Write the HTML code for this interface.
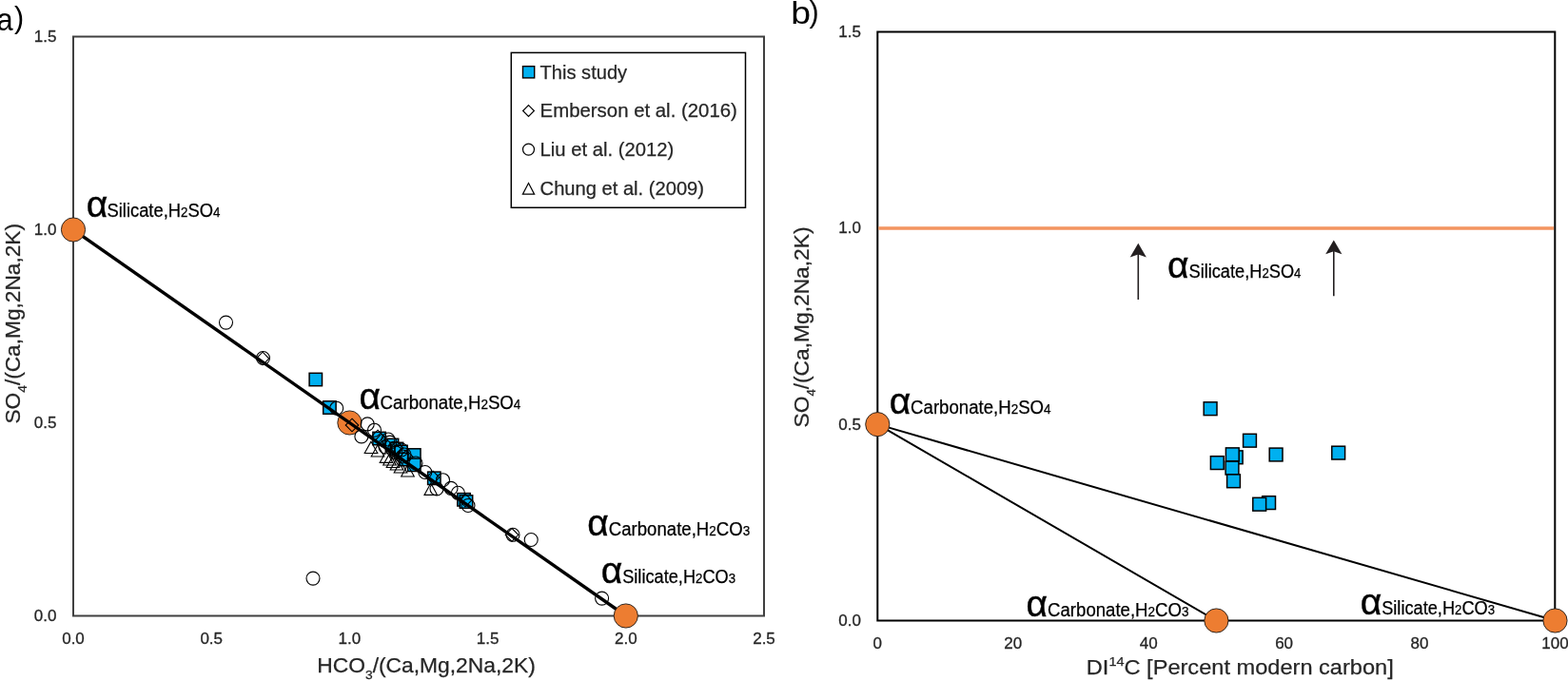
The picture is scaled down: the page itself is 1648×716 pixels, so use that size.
<!DOCTYPE html>
<html><head><meta charset="utf-8"><title>Figure</title>
<style>html,body{margin:0;padding:0;background:#fff;overflow:hidden;} svg{display:block;} text{font-family:"Liberation Sans", Arial, sans-serif;}</style>
</head><body>
<svg width="1648" height="716" viewBox="0 0 1648 716">
<rect width="1648" height="716" fill="#fff"/>
<text x="-3.6" y="31.6" font-size="33.5" fill="#000" textLength="17.2" lengthAdjust="spacingAndGlyphs">a</text>
<text x="14.9" y="29.3" font-size="30.5" fill="#000">)</text>
<text x="831.3" y="25" font-size="34" fill="#000" textLength="20.8" lengthAdjust="spacingAndGlyphs">b</text>
<text x="850.4" y="22.8" font-size="30.5" fill="#000">)</text>
<rect x="77" y="38.5" width="726" height="609" fill="none" stroke="#404040" stroke-width="2"/>
<text x="59.5" y="653.3" font-size="17" fill="#262626" stroke="#262626" stroke-width="0.3" text-anchor="end">0.0</text>
<text x="59.5" y="450.3" font-size="17" fill="#262626" stroke="#262626" stroke-width="0.3" text-anchor="end">0.5</text>
<text x="59.5" y="247.3" font-size="17" fill="#262626" stroke="#262626" stroke-width="0.3" text-anchor="end">1.0</text>
<text x="59.5" y="44.3" font-size="17" fill="#262626" stroke="#262626" stroke-width="0.3" text-anchor="end">1.5</text>
<text x="77" y="677" font-size="17" fill="#262626" stroke="#262626" stroke-width="0.3" text-anchor="middle">0.0</text>
<text x="222.2" y="677" font-size="17" fill="#262626" stroke="#262626" stroke-width="0.3" text-anchor="middle">0.5</text>
<text x="367.4" y="677" font-size="17" fill="#262626" stroke="#262626" stroke-width="0.3" text-anchor="middle">1.0</text>
<text x="512.6" y="677" font-size="17" fill="#262626" stroke="#262626" stroke-width="0.3" text-anchor="middle">1.5</text>
<text x="657.8" y="677" font-size="17" fill="#262626" stroke="#262626" stroke-width="0.3" text-anchor="middle">2.0</text>
<text x="803" y="677" font-size="17" fill="#262626" stroke="#262626" stroke-width="0.3" text-anchor="middle">2.5</text>
<text transform="translate(20.5,445.5) rotate(-90)" font-size="21.5" fill="#262626" stroke="#262626" stroke-width="0.25" textLength="210.5" lengthAdjust="spacingAndGlyphs">SO<tspan font-size="13" dy="7">4</tspan><tspan dy="-7">/(Ca,Mg,2Na,2K)</tspan></text>
<text x="333.3" y="706.8" font-size="21.5" fill="#262626" stroke="#262626" stroke-width="0.25" textLength="229.5" lengthAdjust="spacingAndGlyphs">HCO<tspan font-size="13" dy="7">3</tspan><tspan dy="-7">/(Ca,Mg,2Na,2K)</tspan></text>
<rect x="537.3" y="55.4" width="246.2" height="162.9" fill="#fff" stroke="#000" stroke-width="1.5"/>
<rect x="549.5" y="69.7" width="12.2" height="12.2" fill="#00B0F0" stroke="#000" stroke-width="1.4"/>
<path d="M555.5 110.6 L561.4 116.5 L555.5 122.4 L549.6 116.5 Z" fill="none" stroke="#000" stroke-width="1.2"/>
<circle cx="555.5" cy="157.1" r="6" fill="none" stroke="#000" stroke-width="1.2"/>
<path d="M555.5 192.5 L561.6 204.1 L549.4 204.1 Z" fill="none" stroke="#000" stroke-width="1.2"/>
<text x="567.6" y="82.5" font-size="20.3" fill="#262626" stroke="#262626" stroke-width="0.25" textLength="91.5" lengthAdjust="spacingAndGlyphs">This study</text>
<text x="567.6" y="123" font-size="20.3" fill="#262626" stroke="#262626" stroke-width="0.25" textLength="207.3" lengthAdjust="spacingAndGlyphs">Emberson et al. (2016)</text>
<text x="567.6" y="164" font-size="20.3" fill="#262626" stroke="#262626" stroke-width="0.25" textLength="140.6" lengthAdjust="spacingAndGlyphs">Liu et al. (2012)</text>
<text x="567.6" y="204.5" font-size="20.3" fill="#262626" stroke="#262626" stroke-width="0.25" textLength="172.4" lengthAdjust="spacingAndGlyphs">Chung et al. (2009)</text>
<circle cx="367.4" cy="444.5" r="12.6" fill="#ED7D31" stroke="#1a1a1a" stroke-width="0.9"/>
<rect x="325.1" y="392.3" width="13.4" height="13.4" fill="#00B0F0" stroke="#000" stroke-width="1.5"/>
<rect x="339.7" y="421.8" width="13.4" height="13.4" fill="#00B0F0" stroke="#000" stroke-width="1.5"/>
<rect x="391.9" y="454.3" width="13.4" height="13.4" fill="#00B0F0" stroke="#000" stroke-width="1.5"/>
<rect x="405.3" y="461.3" width="13.4" height="13.4" fill="#00B0F0" stroke="#000" stroke-width="1.5"/>
<rect x="410.3" y="465.3" width="13.4" height="13.4" fill="#00B0F0" stroke="#000" stroke-width="1.5"/>
<rect x="414.8" y="468.3" width="13.4" height="13.4" fill="#00B0F0" stroke="#000" stroke-width="1.5"/>
<rect x="419.3" y="476.3" width="13.4" height="13.4" fill="#00B0F0" stroke="#000" stroke-width="1.5"/>
<rect x="428.6" y="471.8" width="13.4" height="13.4" fill="#00B0F0" stroke="#000" stroke-width="1.5"/>
<rect x="428.6" y="482.1" width="13.4" height="13.4" fill="#00B0F0" stroke="#000" stroke-width="1.5"/>
<rect x="449.6" y="496.1" width="13.4" height="13.4" fill="#00B0F0" stroke="#000" stroke-width="1.5"/>
<rect x="480.8" y="518.6" width="13.4" height="13.4" fill="#00B0F0" stroke="#000" stroke-width="1.5"/>
<rect x="483.3" y="520.8" width="13.4" height="13.4" fill="#00B0F0" stroke="#000" stroke-width="1.5"/>
<circle cx="237.5" cy="339.1" r="7" fill="none" stroke="#000" stroke-width="1.1"/>
<circle cx="276.5" cy="376.5" r="7" fill="none" stroke="#000" stroke-width="1.1"/>
<circle cx="353.7" cy="429.2" r="7" fill="none" stroke="#000" stroke-width="1.1"/>
<circle cx="386.2" cy="445.9" r="7" fill="none" stroke="#000" stroke-width="1.1"/>
<circle cx="393.5" cy="452.2" r="7" fill="none" stroke="#000" stroke-width="1.1"/>
<circle cx="379.9" cy="458.9" r="7" fill="none" stroke="#000" stroke-width="1.1"/>
<circle cx="409.9" cy="465.1" r="7" fill="none" stroke="#000" stroke-width="1.1"/>
<circle cx="405" cy="470" r="7" fill="none" stroke="#000" stroke-width="1.1"/>
<circle cx="415" cy="471" r="7" fill="none" stroke="#000" stroke-width="1.1"/>
<circle cx="425" cy="478" r="7" fill="none" stroke="#000" stroke-width="1.1"/>
<circle cx="437" cy="487" r="7" fill="none" stroke="#000" stroke-width="1.1"/>
<circle cx="446.8" cy="496.5" r="7" fill="none" stroke="#000" stroke-width="1.1"/>
<circle cx="465.5" cy="504.7" r="7" fill="none" stroke="#000" stroke-width="1.1"/>
<circle cx="474" cy="513.4" r="7" fill="none" stroke="#000" stroke-width="1.1"/>
<circle cx="481.4" cy="518.3" r="7" fill="none" stroke="#000" stroke-width="1.1"/>
<circle cx="459" cy="514" r="7" fill="none" stroke="#000" stroke-width="1.1"/>
<circle cx="492" cy="531.5" r="7" fill="none" stroke="#000" stroke-width="1.1"/>
<circle cx="408" cy="462" r="7" fill="none" stroke="#000" stroke-width="1.1"/>
<circle cx="422" cy="473" r="7" fill="none" stroke="#000" stroke-width="1.1"/>
<circle cx="416" cy="476" r="7" fill="none" stroke="#000" stroke-width="1.1"/>
<circle cx="423" cy="480" r="7" fill="none" stroke="#000" stroke-width="1.1"/>
<circle cx="539" cy="562.3" r="7" fill="none" stroke="#000" stroke-width="1.1"/>
<circle cx="558.2" cy="567.5" r="7" fill="none" stroke="#000" stroke-width="1.1"/>
<circle cx="632.6" cy="629.1" r="7" fill="none" stroke="#000" stroke-width="1.1"/>
<circle cx="329" cy="608.1" r="7" fill="none" stroke="#000" stroke-width="1.1"/>
<path d="M276 370.2 L282.8 377 L276 383.8 L269.2 377 Z" fill="none" stroke="#000" stroke-width="1.1"/>
<path d="M370 440.2 L376.8 447 L370 453.8 L363.2 447 Z" fill="none" stroke="#000" stroke-width="1.1"/>
<path d="M538 555.5 L544.8 562.3 L538 569.1 L531.2 562.3 Z" fill="none" stroke="#000" stroke-width="1.1"/>
<path d="M401 456.2 L407.8 463 L401 469.8 L394.2 463 Z" fill="none" stroke="#000" stroke-width="1.1"/>
<path d="M489 519.2 L495.8 526 L489 532.8 L482.2 526 Z" fill="none" stroke="#000" stroke-width="1.1"/>
<path d="M427 473.2 L433.8 480 L427 486.8 L420.2 480 Z" fill="none" stroke="#000" stroke-width="1.1"/>
<path d="M417 464.2 L423.8 471 L417 477.8 L410.2 471 Z" fill="none" stroke="#000" stroke-width="1.1"/>
<path d="M397 452.2 L403.8 459 L397 465.8 L390.2 459 Z" fill="none" stroke="#000" stroke-width="1.1"/>
<path d="M455 495.2 L461.8 502 L455 508.8 L448.2 502 Z" fill="none" stroke="#000" stroke-width="1.1"/>
<path d="M390 464.2 L396.8 476.5 L383.2 476.5 Z" fill="none" stroke="#000" stroke-width="1.1"/>
<path d="M397 467.7 L403.8 480 L390.2 480 Z" fill="none" stroke="#000" stroke-width="1.1"/>
<path d="M406 474.1 L412.8 486.4 L399.2 486.4 Z" fill="none" stroke="#000" stroke-width="1.1"/>
<path d="M409.5 476.7 L416.3 489 L402.7 489 Z" fill="none" stroke="#000" stroke-width="1.1"/>
<path d="M413 479.2 L419.8 491.5 L406.2 491.5 Z" fill="none" stroke="#000" stroke-width="1.1"/>
<path d="M417 481.7 L423.8 494 L410.2 494 Z" fill="none" stroke="#000" stroke-width="1.1"/>
<path d="M421 484.7 L427.8 497 L414.2 497 Z" fill="none" stroke="#000" stroke-width="1.1"/>
<path d="M428.5 488.7 L435.3 501 L421.7 501 Z" fill="none" stroke="#000" stroke-width="1.1"/>
<path d="M452.8 508.1 L459.6 520.4 L446 520.4 Z" fill="none" stroke="#000" stroke-width="1.1"/>
<line x1="77" y1="241.5" x2="657.8" y2="647.5" stroke="#000" stroke-width="3.4"/>
<circle cx="77" cy="241.5" r="12.6" fill="#ED7D31" stroke="#1a1a1a" stroke-width="0.9"/>
<circle cx="657.8" cy="647.5" r="12.6" fill="#ED7D31" stroke="#1a1a1a" stroke-width="0.9"/>
<text x="90.7" y="227.5" font-size="39" fill="#000" stroke="#000" stroke-width="0.45">&#945;</text>
<text x="112.5" y="227.5" font-size="20" fill="#000" stroke="#000" stroke-width="0.25" textLength="118.9" lengthAdjust="spacingAndGlyphs">Silicate,<tspan>H</tspan><tspan font-size="14.5">2</tspan><tspan>SO</tspan><tspan font-size="14.5">4</tspan></text>
<text x="377.5" y="429.6" font-size="39" fill="#000" stroke="#000" stroke-width="0.45">&#945;</text>
<text x="399.6" y="429.6" font-size="20" fill="#000" stroke="#000" stroke-width="0.25" textLength="147.8" lengthAdjust="spacingAndGlyphs">Carbonate,<tspan>H</tspan><tspan font-size="14.5">2</tspan><tspan>SO</tspan><tspan font-size="14.5">4</tspan></text>
<text x="617.3" y="563.4" font-size="39" fill="#000" stroke="#000" stroke-width="0.45">&#945;</text>
<text x="639.8" y="563.4" font-size="20" fill="#000" stroke="#000" stroke-width="0.25" textLength="148.4" lengthAdjust="spacingAndGlyphs">Carbonate,<tspan>H</tspan><tspan font-size="14.5">2</tspan><tspan>CO</tspan><tspan font-size="14.5">3</tspan></text>
<text x="631.7" y="613" font-size="39" fill="#000" stroke="#000" stroke-width="0.45">&#945;</text>
<text x="654.2" y="613" font-size="20" fill="#000" stroke="#000" stroke-width="0.25" textLength="118.9" lengthAdjust="spacingAndGlyphs">Silicate,<tspan>H</tspan><tspan font-size="14.5">2</tspan><tspan>CO</tspan><tspan font-size="14.5">3</tspan></text>
<rect x="922.3" y="33.5" width="712" height="619" fill="none" stroke="#000" stroke-width="2"/>
<text x="905" y="658" font-size="17" fill="#262626" stroke="#262626" stroke-width="0.3" text-anchor="end">0.0</text>
<text x="905" y="451.66" font-size="17" fill="#262626" stroke="#262626" stroke-width="0.3" text-anchor="end">0.5</text>
<text x="905" y="245.33" font-size="17" fill="#262626" stroke="#262626" stroke-width="0.3" text-anchor="end">1.0</text>
<text x="905" y="39" font-size="17" fill="#262626" stroke="#262626" stroke-width="0.3" text-anchor="end">1.5</text>
<text x="922.3" y="682" font-size="17" fill="#262626" stroke="#262626" stroke-width="0.3" text-anchor="middle">0</text>
<text x="1064.74" y="682" font-size="17" fill="#262626" stroke="#262626" stroke-width="0.3" text-anchor="middle">20</text>
<text x="1207.18" y="682" font-size="17" fill="#262626" stroke="#262626" stroke-width="0.3" text-anchor="middle">40</text>
<text x="1349.62" y="682" font-size="17" fill="#262626" stroke="#262626" stroke-width="0.3" text-anchor="middle">60</text>
<text x="1492.06" y="682" font-size="17" fill="#262626" stroke="#262626" stroke-width="0.3" text-anchor="middle">80</text>
<text x="1634.5" y="682" font-size="17" fill="#262626" stroke="#262626" stroke-width="0.3" text-anchor="middle">100</text>
<text transform="translate(849.6,449.5) rotate(-90)" font-size="22.5" fill="#262626" stroke="#262626" stroke-width="0.25" textLength="211" lengthAdjust="spacingAndGlyphs">SO<tspan font-size="13" dy="7">4</tspan><tspan dy="-7">/(Ca,Mg,2Na,2K)</tspan></text>
<text x="1141.8" y="709.2" font-size="22" fill="#262626" stroke="#262626" stroke-width="0.25" textLength="323" lengthAdjust="spacingAndGlyphs">DI<tspan font-size="13.5" dy="-9">14</tspan><tspan dy="9">C [Percent modern carbon]</tspan></text>
<line x1="923.3" y1="240" x2="1633" y2="240" stroke="#F39460" stroke-width="3.6"/>
<line x1="922.3" y1="446.16" x2="1278.4" y2="652.5" stroke="#000" stroke-width="2"/>
<line x1="922.3" y1="446.16" x2="1634.5" y2="652.5" stroke="#000" stroke-width="2"/>
<line x1="1196.3" y1="315" x2="1196.3" y2="263.8" stroke="#231f20" stroke-width="1.6"/>
<path d="M1196.3 255.8 L1204.9 270.6 L1196.3 267.6 L1187.7 270.6 Z" fill="#231f20"/>
<line x1="1401.8" y1="311.3" x2="1401.8" y2="260.4" stroke="#231f20" stroke-width="1.6"/>
<path d="M1401.8 252.4 L1410.4 267.2 L1401.8 264.2 L1393.2 267.2 Z" fill="#231f20"/>
<rect x="1265.2" y="422.8" width="13.8" height="13.8" fill="#00B0F0" stroke="#000" stroke-width="1.5"/>
<rect x="1306.6" y="456.3" width="13.8" height="13.8" fill="#00B0F0" stroke="#000" stroke-width="1.5"/>
<rect x="1334.2" y="471.1" width="13.8" height="13.8" fill="#00B0F0" stroke="#000" stroke-width="1.5"/>
<rect x="1399.8" y="469.2" width="13.8" height="13.8" fill="#00B0F0" stroke="#000" stroke-width="1.5"/>
<rect x="1272.4" y="479.7" width="13.8" height="13.8" fill="#00B0F0" stroke="#000" stroke-width="1.5"/>
<rect x="1292.3" y="473.9" width="13.8" height="13.8" fill="#00B0F0" stroke="#000" stroke-width="1.5"/>
<rect x="1288.4" y="470.9" width="13.8" height="13.8" fill="#00B0F0" stroke="#000" stroke-width="1.5"/>
<rect x="1288.1" y="485.2" width="13.8" height="13.8" fill="#00B0F0" stroke="#000" stroke-width="1.5"/>
<rect x="1289.6" y="498.9" width="13.8" height="13.8" fill="#00B0F0" stroke="#000" stroke-width="1.5"/>
<rect x="1326.7" y="521.7" width="13.8" height="13.8" fill="#00B0F0" stroke="#000" stroke-width="1.5"/>
<rect x="1316.8" y="523.3" width="13.8" height="13.8" fill="#00B0F0" stroke="#000" stroke-width="1.5"/>
<circle cx="922.3" cy="446.16" r="12.6" fill="#ED7D31" stroke="#1a1a1a" stroke-width="0.9"/>
<circle cx="1278.4" cy="652.5" r="12.6" fill="#ED7D31" stroke="#1a1a1a" stroke-width="0.9"/>
<circle cx="1634.5" cy="652.5" r="12.6" fill="#ED7D31" stroke="#1a1a1a" stroke-width="0.9"/>
<text x="934.8" y="435" font-size="39" fill="#000" stroke="#000" stroke-width="0.45">&#945;</text>
<text x="957.1" y="435" font-size="20" fill="#000" stroke="#000" stroke-width="0.25" textLength="147.5" lengthAdjust="spacingAndGlyphs">Carbonate,<tspan>H</tspan><tspan font-size="14.5">2</tspan><tspan>SO</tspan><tspan font-size="14.5">4</tspan></text>
<text x="1226.9" y="291.8" font-size="39" fill="#000" stroke="#000" stroke-width="0.45">&#945;</text>
<text x="1249.5" y="291.8" font-size="20" fill="#000" stroke="#000" stroke-width="0.25" textLength="117.9" lengthAdjust="spacingAndGlyphs">Silicate,<tspan>H</tspan><tspan font-size="14.5">2</tspan><tspan>SO</tspan><tspan font-size="14.5">4</tspan></text>
<text x="1078.5" y="647.8" font-size="39" fill="#000" stroke="#000" stroke-width="0.45">&#945;</text>
<text x="1101.1" y="647.8" font-size="20" fill="#000" stroke="#000" stroke-width="0.25" textLength="148.3" lengthAdjust="spacingAndGlyphs">Carbonate,<tspan>H</tspan><tspan font-size="14.5">2</tspan><tspan>CO</tspan><tspan font-size="14.5">3</tspan></text>
<text x="1429.8" y="646.4" font-size="39" fill="#000" stroke="#000" stroke-width="0.45">&#945;</text>
<text x="1452.2" y="646.4" font-size="20" fill="#000" stroke="#000" stroke-width="0.25" textLength="118.9" lengthAdjust="spacingAndGlyphs">Silicate,<tspan>H</tspan><tspan font-size="14.5">2</tspan><tspan>CO</tspan><tspan font-size="14.5">3</tspan></text>
</svg>
</body></html>
